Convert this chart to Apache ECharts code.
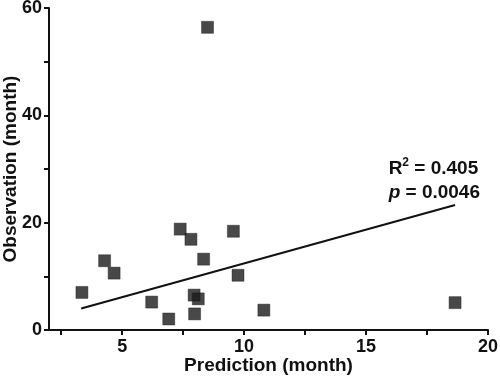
<!DOCTYPE html>
<html>
<head>
<meta charset="utf-8">
<script src="https://cdn.jsdelivr.net/npm/echarts@6/dist/echarts.min.js"></script>
<style>html,body{margin:0;padding:0;background:#fff;}#c{width:500px;height:377px;}</style>
</head>
<body>
<div id="c"></div>
<script>
// Data
var predX = [3.35, 4.28, 4.67, 6.21, 6.91, 7.38, 7.82, 7.95, 8.12, 7.97, 8.34, 8.50, 9.56, 9.75, 10.81, 18.65];
var obsY  = [7.0, 12.9, 10.6, 5.2, 2.05, 18.8, 16.9, 6.5, 5.8, 3.0, 13.2, 56.4, 18.4, 10.2, 3.7, 5.1];
var fitX = [3.32, 18.65];
var fitY = [4.0, 23.3];
var xTickValues = [2.5, 5, 7.5, 10, 12.5, 15, 17.5, 20];
var xTickLabels = [5, 10, 15, 20];
var yTickValues = [0, 10, 20, 30, 40, 50, 60];
var yTickLabels = [0, 20, 40, 60];
var statR2 = '0.405';
var statP = '0.0046';

var FONT = '"Liberation Sans", Arial, Helvetica, sans-serif';
var INK = '#111';

var chart = echarts.init(document.getElementById('c'), null, {renderer: 'canvas'});
var pts = predX.map(function (x, i) { return [x, obsY[i]]; });
var fit = fitX.map(function (x, i) { return [x, fitY[i]]; });

chart.setOption({
  animation: false,
  backgroundColor: '#fff',
  grid: {left: 49, right: 12, top: 8, bottom: 47, containLabel: false, outerBoundsMode: 'none'},
  xAxis: {
    type: 'value', min: 2, max: 20,
    name: 'Prediction (month)', nameLocation: 'middle', nameGap: 26, nameMoveOverlap: false,
    nameTextStyle: {fontFamily: FONT, fontWeight: 'bold', fontSize: 19, color: INK},
    axisLine: {show: true, onZero: false, lineStyle: {color: INK, width: 2}},
    axisTick: {show: true, length: 5, customValues: xTickValues, lineStyle: {color: INK, width: 2}},
    axisLabel: {
      margin: 8, fontFamily: FONT, fontWeight: 'bold', fontSize: 18, color: INK,
      customValues: xTickLabels
    },
    splitLine: {show: false}
  },
  yAxis: {
    type: 'value', min: 0, max: 60,
    name: 'Observation (month)', nameLocation: 'middle', nameGap: 29, nameMoveOverlap: false,
    nameTextStyle: {fontFamily: FONT, fontWeight: 'bold', fontSize: 19, color: INK},
    axisLine: {show: true, onZero: false, lineStyle: {color: INK, width: 2}},
    axisTick: {show: true, length: 5, customValues: yTickValues, lineStyle: {color: INK, width: 2}},
    axisLabel: {
      margin: 7, fontFamily: FONT, fontWeight: 'bold', fontSize: 18, color: INK,
      customValues: yTickLabels
    },
    splitLine: {show: false}
  },
  series: [
    {
      type: 'line', data: fit, showSymbol: false, symbol: 'none',
      lineStyle: {color: INK, width: 2}, z: 2, silent: true
    },
    {
      type: 'scatter', data: pts, symbol: 'rect', symbolSize: 12,
      itemStyle: {color: '#1a1a1a', borderColor: '#1a1a1a', borderWidth: 0.5}, z: 3
    }
  ],
  graphic: [
    {
      type: 'text', right: 20, top: 157,
      style: {
        text: '{b|R}{sup|2}{b| = ' + statR2 + '}\n{i|p}{b| = ' + statP + '}',
        align: 'right',
        rich: {
          b: {fontFamily: FONT, fontWeight: 'bold', fontSize: 19, fill: INK, lineHeight: 24},
          sup: {fontFamily: FONT, fontWeight: 'bold', fontSize: 12, fill: INK, verticalAlign: 'top', padding: [0, 0, 9, 0], lineHeight: 24},
          i: {fontFamily: FONT, fontWeight: 'bold', fontStyle: 'italic', fontSize: 19, fill: INK, lineHeight: 24}
        }
      }
    }
  ]
});
</script>
</body>
</html>
